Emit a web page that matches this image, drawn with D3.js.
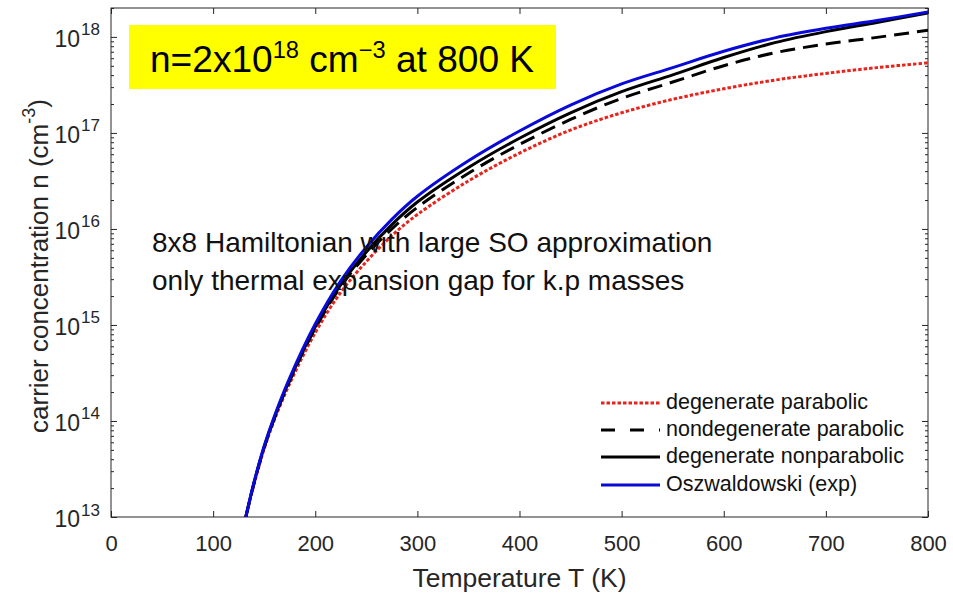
<!DOCTYPE html>
<html>
<head>
<meta charset="utf-8">
<script src="https://cdn.jsdelivr.net/npm/d3@7"></script>
<style>
  body { margin: 0; background: #fff; }
  svg { font-family: "Liberation Sans", Arial, Helvetica, sans-serif; }
</style>
</head>
<body>
<div id="chart"></div>
<script>
////////////////////
// DATA (log10 of n in cm^-3)
var temps      = [132, 140, 150, 160, 175, 200, 225, 250, 275, 300, 350, 400, 450, 500, 550, 600, 650, 700, 750, 800];
var degParab   = [13.00, 13.34, 13.71, 14.01, 14.39, 14.92, 15.34, 15.66, 15.93, 16.15, 16.50, 16.79, 17.03, 17.21, 17.35, 17.46, 17.55, 17.62, 17.68, 17.73];
var nondegPar  = [13.00, 13.35, 13.725, 14.03, 14.42, 14.965, 15.40, 15.73, 16.00, 16.225, 16.58, 16.88, 17.14, 17.36, 17.53, 17.70, 17.835, 17.925, 17.995, 18.07];
var degNonpar  = [13.00, 13.355, 13.73, 14.035, 14.43, 14.98, 15.42, 15.76, 16.045, 16.28, 16.64, 16.945, 17.21, 17.43, 17.605, 17.785, 17.94, 18.055, 18.15, 18.25];
var oszwald    = [13.00, 13.36, 13.74, 14.05, 14.45, 15.01, 15.46, 15.81, 16.10, 16.34, 16.71, 17.02, 17.29, 17.51, 17.68, 17.85, 17.99, 18.09, 18.17, 18.26];

var xTicks = [0, 100, 200, 300, 400, 500, 600, 700, 800];
var yDecades = [13, 14, 15, 16, 17, 18];

var seriesNames = ["degenerate parabolic", "nondegenerate parabolic", "degenerate nonparabolic", "Oszwaldowski (exp)"];

////////////////////
// LAYOUT
var W = 953, H = 593;
var pL = 111, pR = 928, pT = 8, pB = 517;
var axisCol = "#262626";

var svg = d3.select("#chart").append("svg")
  .attr("width", W)
  .attr("height", H);

var x = d3.scaleLinear().domain([0, 800]).range([pL, pR]);
var y = d3.scaleLog().domain([1e13, 2e18]).range([pB, pT]);

// series table built from the arrays
var series = [
  { name: seriesNames[0], vals: degParab,  color: "#e8231c", dash: "3.5,2",  legDash: "3.5,2" },
  { name: seriesNames[1], vals: nondegPar, color: "#000",    dash: "15,8",   legDash: "14,15" },
  { name: seriesNames[2], vals: degNonpar, color: "#000",    dash: null,     legDash: null },
  { name: seriesNames[3], vals: oszwald,   color: "#0a0ad8", dash: null,     legDash: null }
];

svg.append("clipPath").attr("id", "plotclip")
  .append("rect")
  .attr("x", pL).attr("y", pT)
  .attr("width", pR - pL).attr("height", pB - pT);

////////////////////
// AXES
svg.append("g")
  .attr("transform", "translate(0," + pB + ")")
  .call(d3.axisBottom(x).tickValues(xTicks).tickSize(-6).tickPadding(18).tickFormat(d3.format("d")));
svg.append("g")
  .attr("transform", "translate(0," + pT + ")")
  .call(d3.axisTop(x).tickValues(xTicks).tickSize(-6).tickFormat(""));

var minors = [];
yDecades.forEach(function(k) {
  for (var m = 2; m <= 9; m++) {
    var v = m * Math.pow(10, k);
    if (v <= 2e18) minors.push(v);
  }
});
var majors = yDecades.map(function(k) { return Math.pow(10, k); });

var yAxis = svg.append("g")
  .attr("transform", "translate(" + pL + ",0)")
  .call(d3.axisLeft(y).tickValues(majors).tickSize(-6).tickPadding(11));
svg.append("g")
  .attr("transform", "translate(" + pL + ",0)")
  .call(d3.axisLeft(y).tickValues(minors).tickSize(-3).tickFormat(""));
svg.append("g")
  .attr("transform", "translate(" + pR + ",0)")
  .call(d3.axisRight(y).tickValues(majors).tickSize(-6).tickFormat(""));
svg.append("g")
  .attr("transform", "translate(" + pR + ",0)")
  .call(d3.axisRight(y).tickValues(minors).tickSize(-3).tickFormat(""));

svg.selectAll(".domain").remove();
svg.selectAll(".tick line").attr("stroke", axisCol);
svg.selectAll(".tick text")
  .attr("fill", axisCol)
  .attr("font-size", "22px")
  .attr("font-family", "Liberation Sans, Arial, sans-serif");

// superscript tick labels
yAxis.selectAll(".tick text").each(function(d) {
  var t = d3.select(this).text(null).attr("dy", "0.45em");
  t.append("tspan").attr("font-size", "23px").text("10");
  t.append("tspan").attr("font-size", "17px").attr("dx", "1").attr("dy", "-0.7em")
    .text(Math.round(Math.log10(d)));
});

svg.append("rect")
  .attr("x", pL).attr("y", pT)
  .attr("width", pR - pL).attr("height", pB - pT)
  .attr("fill", "none").attr("stroke", axisCol).attr("stroke-width", 1);

////////////////////
// CURVES
var line = d3.line()
  .x(function(d) { return x(d[0]); })
  .y(function(d) { return y(Math.pow(10, d[1])); })
  .curve(d3.curveCatmullRom.alpha(0.5));

var plot = svg.append("g").attr("clip-path", "url(#plotclip)");
series.forEach(function(s) {
  plot.append("path")
    .datum(temps.map(function(t, i) { return [t, s.vals[i]]; }))
    .attr("d", line)
    .attr("fill", "none")
    .attr("stroke", s.color)
    .attr("stroke-width", 3)
    .attr("stroke-dasharray", s.dash);
});

////////////////////
// LABELS
svg.append("text")
  .attr("x", (pL + pR) / 2).attr("y", 587)
  .attr("text-anchor", "middle")
  .attr("font-size", "26.5px").attr("fill", axisCol)
  .text("Temperature T (K)");

var yl = svg.append("text")
  .attr("transform", "translate(48,266) rotate(-90)")
  .attr("text-anchor", "middle")
  .attr("font-size", "26px").attr("fill", axisCol);
yl.append("tspan").text("carrier concentration n (cm");
yl.append("tspan").attr("font-size", "18px").attr("dy", "-0.7em").text("-3");
yl.append("tspan").attr("dy", "0.45em").text(")");

// yellow box
svg.append("rect")
  .attr("x", 129).attr("y", 25).attr("width", 427).attr("height", 64)
  .attr("fill", "#ffff00");
var bt = svg.append("text")
  .attr("transform", "translate(150,72) scale(1.03,1)")
  .attr("font-size", "36px").attr("fill", "#000");
bt.append("tspan").text("n=2x10");
bt.append("tspan").attr("font-size", "23px").attr("dy", "-14").text("18");
bt.append("tspan").attr("dy", "14").text(" cm");
bt.append("tspan").attr("font-size", "23px").attr("dy", "-14").text("\u22123");
bt.append("tspan").attr("dy", "14").text(" at 800 K");

// annotation
var notes = ["8x8 Hamiltonian with large SO approximation", "only thermal expansion gap for k.p masses"];
svg.selectAll(".note").data(notes).enter().append("text")
  .attr("class", "note")
  .attr("x", 152)
  .attr("y", function(d, i) { return 252 + i * 38; })
  .attr("font-size", "28px").attr("fill", "#111")
  .text(function(d) { return d; });

////////////////////
// LEGEND
var legRows = [403, 430, 457, 485];
var leg = svg.append("g");
series.forEach(function(s, i) {
  leg.append("line")
    .attr("x1", 601).attr("x2", 660)
    .attr("y1", legRows[i]).attr("y2", legRows[i])
    .attr("stroke", s.color).attr("stroke-width", 3)
    .attr("stroke-dasharray", s.legDash);
  leg.append("text")
    .attr("x", 666).attr("y", legRows[i] + 6)
    .attr("font-size", "21.5px").attr("fill", "#111")
    .text(s.name);
});
</script>
</body>
</html>
